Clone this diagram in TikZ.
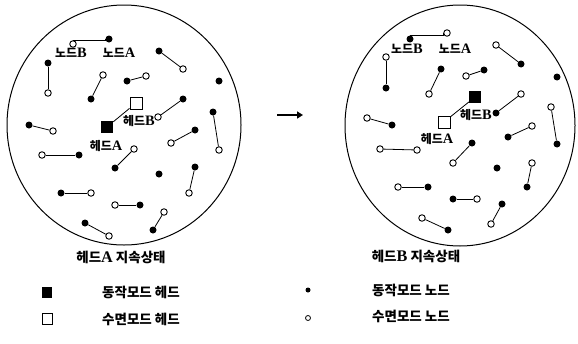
\documentclass[tikz,border=0pt]{standalone}
\usepackage{fontspec}
\newfontfamily\kr{Noto Sans CJK KR}
\newfontfamily\lt[Scale=1.2]{Liberation Serif}
\usetikzlibrary{shapes.geometric,arrows.meta}
\tikzset{
  fn/.style={circle,fill=black,inner sep=0pt,minimum size=7pt},
  on/.style={circle,draw=black,fill=white,line width=0.9pt,inner sep=0pt,minimum size=6.5pt},
  fsq/.style={rectangle,fill=black,inner sep=0pt,minimum size=12pt},
  osq/.style={rectangle,draw=black,fill=white,line width=0.9pt,inner sep=0pt,minimum size=12pt},
  link/.style={line width=0.8pt},
  lbl/.style={font=\kr\bfseries\fontsize{12}{13}\selectfont,inner sep=0pt},
  captxt/.style={font=\kr\bfseries\fontsize{13.5}{14}\selectfont,inner sep=0pt},
  leg/.style={font=\kr\bfseries\fontsize{13.5}{14}\selectfont,inner sep=0pt,anchor=west},
  area/.style={ellipse,draw=black,line width=1pt,inner sep=0pt}
}
\begin{document}
\begin{tikzpicture}[x=1pt,y=-1pt]
\useasboundingbox (0,0) rectangle (578,343);
% circles
\node[area,minimum width=234pt,minimum height=240pt] (cA) at (124,125) {};
\node[area,minimum width=230pt,minimum height=241pt] (cB) at (460,125.5) {};
% ---------- left (head A) ----------
\node[on] (a1o) at (73,44) {}; \node[fn] (a1f) at (109,39) {};
\draw[link] (a1o.north) -- (a1o.north -| a1f.west) -- (a1f.west);
\node[lbl] (a1lb) at (71,53) {노드{\lt\bfseries B}};
\node[lbl] (a1la) at (119,53) {노드{\lt\bfseries A}};
\node[fn] (a2f) at (48,63) {}; \node[on] (a2o) at (48,93) {}; \draw[link] (a2f) -- (a2o);
\node[fn] (a3f) at (159,51) {}; \node[on] (a3o) at (183,69) {}; \draw[link] (a3f) -- (a3o);
\node[on] (a4o) at (103,75) {}; \node[fn] (a4f) at (91,99) {}; \draw[link] (a4o) -- (a4f);
\node[fn] (a5f) at (127,81) {}; \node[on] (a5o) at (146,76) {}; \draw[link] (a5f) -- (a5o);
\node[fn] (a6f) at (219,81) {};
\node[osq] (aHB) at (136,103) {}; \node[fsq] (aHA) at (107,127) {}; \draw[link] (aHB) -- (aHA);
\node[lbl] (aHBl) at (139,121) {헤드{\lt\bfseries B}};
\node[lbl] (aHAl) at (106,146) {헤드{\lt\bfseries A}};
\node[fn] (a8f) at (183,99) {}; \node[on] (a8o) at (158,117) {}; \draw[link] (a8f) -- (a8o);
\node[fn] (a9f) at (213,112) {}; \node[on] (a9o) at (219,150) {}; \draw[link] (a9f) -- (a9o);
\node[fn] (a10f) at (29,125) {}; \node[on] (a10o) at (53,131) {}; \draw[link] (a10f) -- (a10o);
\node[fn] (a11f) at (195,130) {}; \node[on] (a11o) at (171,143) {}; \draw[link] (a11f) -- (a11o);
\node[on] (a12o) at (42,155) {}; \node[fn] (a12f) at (79,155) {}; \draw[link] (a12o) -- (a12f);
\node[on] (a13o) at (134,149) {}; \node[fn] (a13f) at (115,168) {}; \draw[link] (a13o) -- (a13f);
\node[fn] (a14f) at (159,174) {};
\node[fn] (a15f) at (195,167) {}; \node[on] (a15o) at (189,193) {}; \draw[link] (a15f) -- (a15o);
\node[fn] (a16f) at (61,193) {}; \node[on] (a16o) at (91,193) {}; \draw[link] (a16f) -- (a16o);
\node[on] (a17o) at (115,205) {}; \node[fn] (a17f) at (140,205) {}; \draw[link] (a17o) -- (a17f);
\node[on] (a18o) at (164,212) {}; \node[fn] (a18f) at (153,230) {}; \draw[link] (a18o) -- (a18f);
\node[fn] (a19f) at (85,223) {}; \node[on] (a19o) at (109,236) {}; \draw[link] (a19f) -- (a19o);
% ---------- right (head B) ----------
\node[fn] (b1f) at (410,39) {}; \node[on] (b1o) at (447,33) {};
\draw[link] (b1f.north) -- (b1f.north -| b1o.west) -- (b1o.west);
\node[lbl] (b1lb) at (407,49) {노드{\lt\bfseries B}};
\node[lbl] (b1la) at (455,49) {노드{\lt\bfseries A}};
\node[on] (b2o) at (386,57) {}; \node[fn] (b2f) at (386,88) {}; \draw[link] (b2o) -- (b2f);
\node[on] (b3o) at (496,45) {}; \node[fn] (b3f) at (521,64) {}; \draw[link] (b3o) -- (b3f);
\node[fn] (b4f) at (441,69) {}; \node[on] (b4o) at (429,94) {}; \draw[link] (b4f) -- (b4o);
\node[on] (b5o) at (466,76) {}; \node[fn] (b5f) at (484,70) {}; \draw[link] (b5o) -- (b5f);
\node[fn] (b6f) at (557,77) {};
\node[fsq] (bHB) at (475,97) {}; \node[osq] (bHA) at (444,122) {}; \draw[link] (bHB) -- (bHA);
\node[lbl] (bHBl) at (476,115) {헤드{\lt\bfseries B}};
\node[lbl] (bHAl) at (437,139) {헤드{\lt\bfseries A}};
\node[on] (b8o) at (521,94) {}; \node[fn] (b8f) at (496,113) {}; \draw[link] (b8o) -- (b8f);
\node[on] (b9o) at (551,107) {}; \node[fn] (b9f) at (557,144) {}; \draw[link] (b9o) -- (b9f);
\node[on] (b10o) at (367,118) {}; \node[fn] (b10f) at (392,125) {}; \draw[link] (b10o) -- (b10f);
\node[on] (b11o) at (532,126) {}; \node[fn] (b11f) at (508,137) {}; \draw[link] (b11o) -- (b11f);
\node[on] (b12o) at (380,149) {}; \node[on] (b12p) at (417,150) {}; \draw[link] (b12o) -- (b12p);
\node[fn] (b13f) at (472,143) {}; \node[on] (b13o) at (453,163) {}; \draw[link] (b13f) -- (b13o);
\node[fn] (b14f) at (497,168) {};
\node[on] (b15o) at (532,163) {}; \node[fn] (b15f) at (527,187) {}; \draw[link] (b15o) -- (b15f);
\node[on] (b16o) at (398,187) {}; \node[fn] (b16f) at (428,187) {}; \draw[link] (b16o) -- (b16f);
\node[fn] (b17f) at (453,199) {}; \node[on] (b17o) at (477,199) {}; \draw[link] (b17f) -- (b17o);
\node[fn] (b18f) at (502,204) {}; \node[on] (b18o) at (491,224) {}; \draw[link] (b18f) -- (b18o);
\node[on] (b19o) at (422,218) {}; \node[fn] (b19f) at (448,230) {}; \draw[link] (b19o) -- (b19f);
% arrow
\coordinate (arS) at (277,115); \coordinate (arE) at (303,115);
\draw[line width=2.2pt,-{Triangle[length=6pt,width=7pt]}] (arS) -- (arE);
% captions
\node[captxt] (capA) at (121,257) {헤드{\lt\bfseries A} 지속상태};
\node[captxt] (capB) at (416,256) {헤드{\lt\bfseries B} 지속상태};
% legend
\node[fsq,minimum width=10pt,minimum height=11pt] (lg1) at (47,292) {};
\node[leg] (lg1t) at (102,292) {동작모드 헤드};
\node[osq,minimum width=10pt,minimum height=11pt] (lg2) at (47,319) {};
\node[leg] (lg2t) at (102,319) {수면모드 헤드};
\node[fn,minimum size=5pt] (lg3) at (308,290) {};
\node[leg] (lg3t) at (372,290) {동작모드 노드};
\node[on,minimum size=5pt,line width=0.8pt] (lg4) at (308,318) {};
\node[leg] (lg4t) at (372,316) {수면모드 노드};
\end{tikzpicture}
\end{document}
